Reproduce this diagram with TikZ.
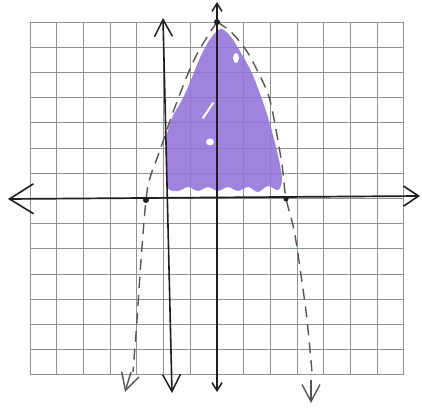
\documentclass[tikz,border=0pt]{standalone}
\usetikzlibrary{arrows.meta}
\definecolor{gridc}{RGB}{135,150,145}
\definecolor{purplec}{RGB}{146,114,218}
\definecolor{inkc}{RGB}{30,30,30}
\definecolor{dashc}{RGB}{85,85,85}
\begin{document}
\begin{tikzpicture}[x=1pt,y=-1pt,
  gridline/.style={draw=gridc,line width=1.1pt},
  axisline/.style={draw=inkc,line width=1.7pt},
  vline/.style={draw=inkc,line width=1.6pt},
  curve/.style={draw=dashc,line width=1.4pt,dash pattern=on 11pt off 7pt},
  bigtip/.style={-{Straight Barb[length=17pt,width=18pt,line width=1.4pt]}},
  smalltip/.style={-{Straight Barb[length=8pt,width=10pt,line width=1.5pt]}},
  dot/.style={fill=inkc,draw=none},
  region/.style={fill=purplec,fill opacity=0.88}]
\useasboundingbox (0,0) rectangle (422,411);
\fill[white] (0,0) rectangle (422,411);
% grid
\foreach \k in {-7,...,7}{
  \draw[gridline] ({217+\k*26.7},22) -- ({217+\k*26.7},375);
  \draw[gridline] (30,{198.5+\k*25.2}) -- (404,{198.5+\k*25.2});
}
% shaded region
\path[region] plot[smooth cycle,tension=0.5] coordinates {
 (168,188) (166,165) (166,140) (172,118) (182,100) (191,80) (199,60)
 (207,44) (215,33) (222,29) (231,37) (241,53) (251,71) (259,91) (266,111)
 (273,135) (279,160) (282,180) (278,190) (268,186) (258,192) (248,187)
 (238,191) (228,187) (218,191) (208,187) (198,191) (188,187) (178,191)};
\fill[white] (210,142) ellipse (4pt and 3.5pt);
\draw[white,line width=2pt,line cap=round] (203,118) -- (213,103);
\fill[white] (236,58) ellipse (3pt and 5pt);
% dashed parabola
\coordinate (vx) at (217,22);
\coordinate (lroot) at (146,200);
\coordinate (rroot) at (286,199);
\draw[curve] plot[smooth,tension=0.6] coordinates {(217,22) (195,58) (175,107) (160,150) (150,178) (146,200) (141,260) (137,320) (133,372)};
\draw[curve] plot[smooth,tension=0.6] coordinates {(217,22) (231,32) (246,50) (258,72) (269,97) (276,130) (282,165) (286,198) (294,230) (301,275) (307,320) (312,372)};
\draw[dashc,line width=1.4pt,bigtip] (131,372) -- (125,392);
\draw[dashc,line width=1.4pt,bigtip] (311,380) -- (311,403);
% axes
\draw[axisline,{Straight Barb[length=24pt,width=30pt,line width=1.6pt]}-{Straight Barb[length=15pt,width=20pt,line width=1.6pt]}] (8,199) -- (420,196);
\draw[axisline,smalltip] (217,200) -- (217,2);
\draw[axisline,smalltip] (217,200) -- (217,392);
% vertical line x=-2
\draw[vline,{Straight Barb[length=17pt,width=18pt,line width=1.5pt]}-{Straight Barb[length=17pt,width=18pt,line width=1.5pt]}] (163,18) -- (172,393);
% points
\fill[dot] (vx) circle (3pt);
\fill[dot] (lroot) circle (3pt);
\fill[dot] (rroot) circle (2.5pt);
\end{tikzpicture}
\end{document}
